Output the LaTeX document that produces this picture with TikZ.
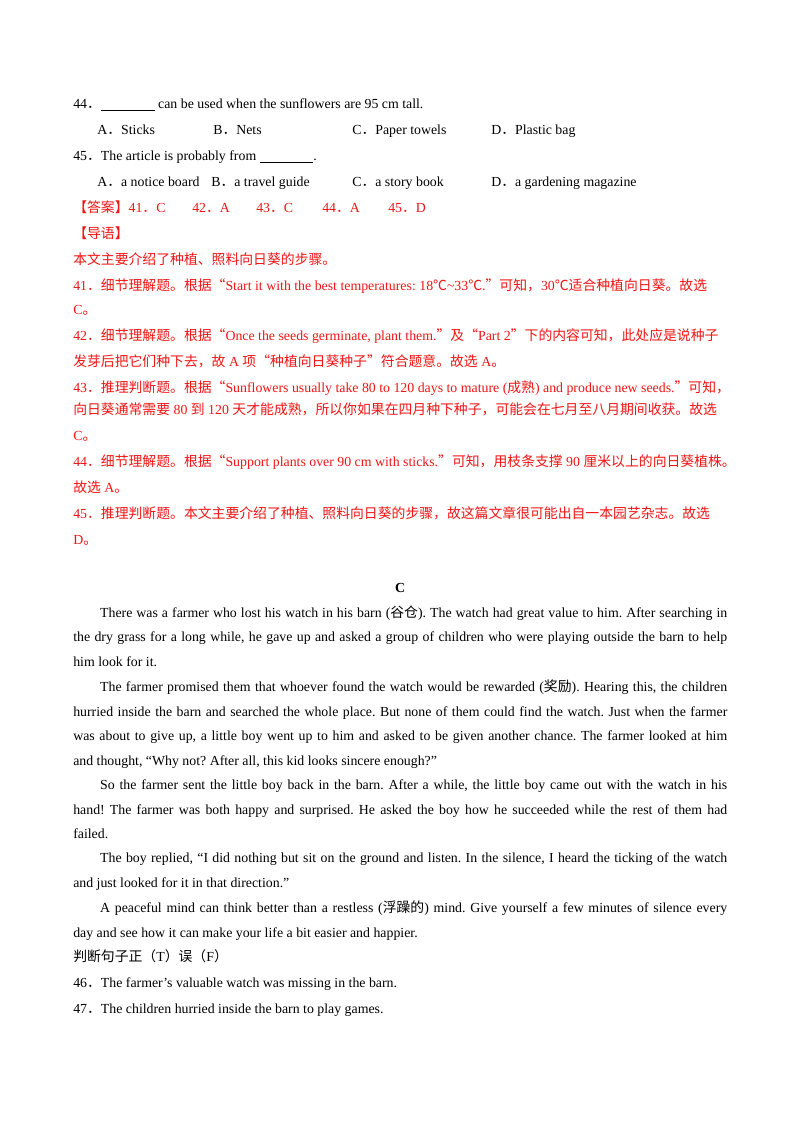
\documentclass[tikz,border=0pt]{standalone}
\usepackage{fontspec}
\setmainfont{Liberation Serif}
\newfontfamily\cjk{Noto Sans CJK SC}
\newcommand{\zh}[1]{{\cjk #1}}
\definecolor{ans}{RGB}{240,20,20}
\frenchspacing
\begin{document}
\begin{tikzpicture}[x=0.744pt,y=-0.744pt,
  L/.style={anchor=base west,inner sep=0,font=\fontsize{10.3}{12}\selectfont},
  R/.style={L,text=ans},
  J/.style={L,text width=486.6pt,align=justify,execute at begin node={\parfillskip=0pt}}]
\useasboundingbox (0,0) rectangle (800,1132);
\node[L] (q44) at (73,108) {44\zh{．}\underline{\hspace{40pt}} can be used when the sunflowers are 95 cm tall.};
\node[L] (a44a) at (97,134) {A\zh{．}Sticks};
\node[L] (a44b) at (213,134) {B\zh{．}Nets};
\node[L] (a44c) at (352,134) {C\zh{．}Paper towels};
\node[L] (a44d) at (491,134) {D\zh{．}Plastic bag};
\node[L] (q45) at (73,160) {45\zh{．}The article is probably from \underline{\hspace{40pt}}.};
\node[L] (a45a) at (97,186) {A\zh{．}a notice board};
\node[L] (a45b) at (211,186) {B\zh{．}a travel guide};
\node[L] (a45c) at (352,186) {C\zh{．}a story book};
\node[L] (a45d) at (491,186) {D\zh{．}a gardening magazine};
\node[R] (k0) at (73,212) {\zh{【答案】}41\zh{．}C};
\node[R] (k2) at (192,212) {42\zh{．}A};
\node[R] (k3) at (256,212) {43\zh{．}C};
\node[R] (k4) at (322,212) {44\zh{．}A};
\node[R] (k5) at (388,212) {45\zh{．}D};
\node[R] (d0) at (73,238) {\zh{【导语】}};
\node[R] (d1) at (73,264) {\zh{本文主要介绍了种植、照料向日葵的步骤。}};
\node[R] (e41a) at (73,290) {41\zh{．细节理解题。根据“}Start it with the best temperatures: 18\zh{℃}\textasciitilde 33\zh{℃}.\zh{”可知，}30\zh{℃适合种植向日葵。故选}};
\node[R] (e41b) at (73,314) {C\zh{。}};
\node[R] (e42a) at (73,340) {42\zh{．细节理解题。根据“}Once the seeds germinate, plant them.\zh{”及“}Part 2\zh{”下的内容可知，此处应是说种子}};
\node[R] (e42b) at (73,366) {\zh{发芽后把它们种下去，故} A \zh{项“种植向日葵种子”符合题意。故选} A\zh{。}};
\node[R] (e43a) at (73,392) {43\zh{．推理判断题。根据“}Sunflowers usually take 80 to 120 days to mature (\zh{成熟}) and produce new seeds.\zh{”可知，}};
\node[R] (e43b) at (73,414) {\zh{向日葵通常需要} 80 \zh{到} 120 \zh{天才能成熟，所以你如果在四月种下种子，可能会在七月至八月期间收获。故选}};
\node[R] (e43c) at (73,440) {C\zh{。}};
\node[R] (e44a) at (73,466) {44\zh{．细节理解题。根据“}Support plants over 90 cm with sticks.\zh{”可知，用枝条支撑} 90 \zh{厘米以上的向日葵植株。}};
\node[R] (e44b) at (73,492) {\zh{故选} A\zh{。}};
\node[R] (e45a) at (73,518) {45\zh{．推理判断题。本文主要介绍了种植、照料向日葵的步骤，故这篇文章很可能出自一本园艺杂志。故选}};
\node[R] (e45b) at (73,544) {D\zh{。}};
\node[L,font=\fontsize{10.3}{12}\selectfont\bfseries,anchor=base] (tc) at (400,592) {C};
\node[J] (p1a) at (73,617) {\hspace{20pt}There was a farmer who lost his watch in his barn (\zh{谷仓}). The watch had great value to him. After searching in};
\node[J] (p1b) at (73,641) {the dry grass for a long while, he gave up and asked a group of children who were playing outside the barn to help};
\node[L] (p1c) at (73,666) {him look for it.};
\node[J] (p2a) at (73,691) {\hspace{20pt}The farmer promised them that whoever found the watch would be rewarded (\zh{奖励}). Hearing this, the children};
\node[J] (p2b) at (73,716) {hurried inside the barn and searched the whole place. But none of them could find the watch. Just when the farmer};
\node[J] (p2c) at (73,740) {was about to give up, a little boy went up to him and asked to be given another chance. The farmer looked at him};
\node[L] (p2d) at (73,765) {and thought, “Why not? After all, this kid looks sincere enough?”};
\node[J] (p3a) at (73,789) {\hspace{20pt}So the farmer sent the little boy back in the barn. After a while, the little boy came out with the watch in his};
\node[J] (p3b) at (73,814) {hand! The farmer was both happy and surprised. He asked the boy how he succeeded while the rest of them had};
\node[L] (p3c) at (73,838) {failed.};
\node[J] (p4a) at (73,862) {\hspace{20pt}The boy replied, “I did nothing but sit on the ground and listen. In the silence, I heard the ticking of the watch};
\node[L] (p4b) at (73,887) {and just looked for it in that direction.”};
\node[J] (p5a) at (73,912) {\hspace{20pt}A peaceful mind can think better than a restless (\zh{浮躁的}) mind. Give yourself a few minutes of silence every};
\node[L] (p5b) at (73,937) {day and see how it can make your life a bit easier and happier.};
\node[L] (tf) at (73,961) {\zh{判断句子正（}T\zh{）误（}F\zh{）}};
\node[L] (q46) at (73,987) {46\zh{．}The farmer’s valuable watch was missing in the barn.};
\node[L] (q47) at (73,1013) {47\zh{．}The children hurried inside the barn to play games.};
\end{tikzpicture}
\end{document}
